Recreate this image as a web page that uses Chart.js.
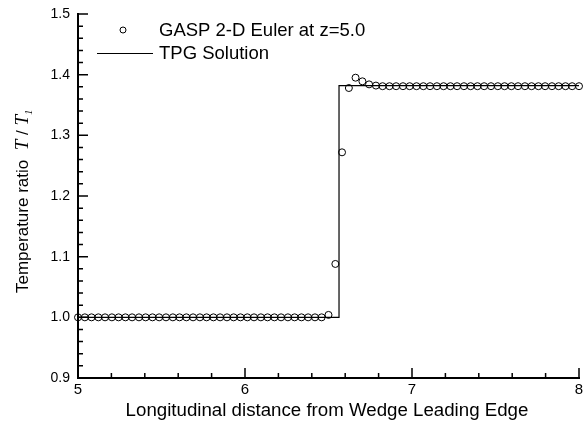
<!DOCTYPE html>
<html>
<head>
<meta charset="utf-8">
<script src="https://cdn.jsdelivr.net/npm/chart.js@4"></script>
<style>
  body { margin: 0; background: #fff; }
  #wrap { width: 584px; height: 424px; }
</style>
</head>
<body>
<div id="wrap"><canvas id="chart" width="584" height="424"></canvas></div>
<script>
// x positions of the GASP samples
const gaspX = [
  5.000, 5.041, 5.081, 5.122, 5.162, 5.203, 5.243, 5.284, 5.324, 5.365,
  5.405, 5.446, 5.486, 5.527, 5.568, 5.608, 5.649, 5.689, 5.730, 5.770,
  5.811, 5.851, 5.892, 5.932, 5.973, 6.014, 6.054, 6.095, 6.135, 6.176,
  6.216, 6.257, 6.297, 6.338, 6.378, 6.419, 6.459, 6.500, 6.541, 6.581,
  6.622, 6.662, 6.703, 6.743, 6.784, 6.824, 6.865, 6.905, 6.946, 6.986,
  7.027, 7.068, 7.108, 7.149, 7.189, 7.230, 7.270, 7.311, 7.351, 7.392,
  7.432, 7.473, 7.514, 7.554, 7.595, 7.635, 7.676, 7.716, 7.757, 7.797,
  7.838, 7.878, 7.919, 7.959, 8.000
];
const gaspT = [
  1.000, 1.000, 1.000, 1.000, 1.000, 1.000, 1.000, 1.000, 1.000, 1.000,
  1.000, 1.000, 1.000, 1.000, 1.000, 1.000, 1.000, 1.000, 1.000, 1.000,
  1.000, 1.000, 1.000, 1.000, 1.000, 1.000, 1.000, 1.000, 1.000, 1.000,
  1.000, 1.000, 1.000, 1.000, 1.000, 1.000, 1.000, 1.004, 1.088, 1.272,
  1.378, 1.395, 1.389, 1.384, 1.382, 1.381, 1.381, 1.381, 1.381, 1.381,
  1.381, 1.381, 1.381, 1.381, 1.381, 1.381, 1.381, 1.381, 1.381, 1.381,
  1.381, 1.381, 1.381, 1.381, 1.381, 1.381, 1.381, 1.381, 1.381, 1.381,
  1.381, 1.381, 1.381, 1.381, 1.381
];

// TPG solution: step at the shock
const tpgX = [5.0, 6.563, 6.563, 8.0];
const tpgT = [1.0, 1.0, 1.382, 1.382];

// axis ticks
const xMajor = [5, 6, 7, 8];
const xMinor = [5.2, 5.4, 5.6, 5.8, 6.2, 6.4, 6.6, 6.8, 7.2, 7.4, 7.6, 7.8];
const yMajor = [0.9, 1.0, 1.1, 1.2, 1.3, 1.4, 1.5];
const yMinor = [
  0.92, 0.94, 0.96, 0.98, 1.02, 1.04, 1.06, 1.08, 1.12, 1.14, 1.16, 1.18,
  1.22, 1.24, 1.26, 1.28, 1.32, 1.34, 1.36, 1.38, 1.42, 1.44, 1.46, 1.48
];

const FONT = "'Liberation Sans', Arial, Helvetica, sans-serif";
const SERIF = "'Liberation Serif', 'Times New Roman', serif";

// inward ticks, titles and the in-plot legend
const decorations = {
  id: "decorations",
  afterDraw(chart) {
    const ctx = chart.ctx;
    const { left, bottom } = chart.chartArea;
    const xs = chart.scales.x;
    const ys = chart.scales.y;

    ctx.save();
    ctx.strokeStyle = "#000";
    ctx.lineWidth = 1.5;
    ctx.beginPath();
    xMajor.forEach((v) => {
      const p = xs.getPixelForValue(v);
      ctx.moveTo(p, bottom);
      ctx.lineTo(p, bottom - 10);
    });
    xMinor.forEach((v) => {
      const p = xs.getPixelForValue(v);
      ctx.moveTo(p, bottom);
      ctx.lineTo(p, bottom - 5);
    });
    yMajor.forEach((v) => {
      const p = ys.getPixelForValue(v);
      ctx.moveTo(left, p);
      ctx.lineTo(left + 10, p);
    });
    yMinor.forEach((v) => {
      const p = ys.getPixelForValue(v);
      ctx.moveTo(left, p);
      ctx.lineTo(left + 5, p);
    });
    ctx.stroke();

    // x title
    ctx.fillStyle = "#000";
    ctx.font = "18.7px " + FONT;
    ctx.textAlign = "center";
    ctx.textBaseline = "alphabetic";
    ctx.fillText("Longitudinal distance from Wedge Leading Edge", 327, 416);

    // y title (rotated, with italic T / T1)
    ctx.save();
    ctx.translate(28, 293);
    ctx.rotate(-Math.PI / 2);
    ctx.textAlign = "left";
    let x = 0;
    const part = (txt, font, dy) => {
      ctx.font = font;
      ctx.fillText(txt, x, dy || 0);
      x += ctx.measureText(txt).width;
    };
    part("Temperature ratio  ", "17px " + FONT);
    part("T", "italic 19px " + SERIF);
    part(" / ", "17px " + FONT);
    part("T", "italic 19px " + SERIF);
    part("1", "italic 11px " + SERIF, 4);
    ctx.restore();

    // legend
    ctx.lineWidth = 1;
    ctx.beginPath();
    ctx.arc(123, 30, 3, 0, Math.PI * 2);
    ctx.stroke();
    ctx.beginPath();
    ctx.moveTo(97, 53.5);
    ctx.lineTo(153, 53.5);
    ctx.stroke();
    ctx.font = "18.5px " + FONT;
    ctx.textAlign = "left";
    ctx.fillText("GASP 2-D Euler at z=5.0", 159, 36);
    ctx.fillText("TPG Solution", 159, 59);
    ctx.restore();
  },
};

const ctx = document.getElementById("chart").getContext("2d");

new Chart(ctx, {
  type: "scatter",
  data: {
    datasets: [
      {
        label: "TPG Solution",
        type: "line",
        data: tpgX.map((x, i) => ({ x: x, y: tpgT[i] })),
        borderColor: "#000",
        borderWidth: 1.2,
        pointRadius: 0,
        fill: false,
        tension: 0,
      },
      {
        label: "GASP 2-D Euler at z=5.0",
        data: gaspX.map((x, i) => ({ x: x, y: gaspT[i] })),
        borderColor: "#000",
        backgroundColor: "rgba(0,0,0,0)",
        borderWidth: 1,
        pointRadius: 3.5,
        pointStyle: "circle",
        clip: false,
      },
    ],
  },
  options: {
    responsive: false,
    animation: false,
    layout: { padding: { top: 14, right: 1, left: 0, bottom: 0 } },
    plugins: {
      legend: { display: false },
      tooltip: { enabled: false },
    },
    scales: {
      x: {
        type: "linear",
        min: 5,
        max: 8,
        afterBuildTicks: (scale) => {
          scale.ticks = xMajor.map((v) => ({ value: v }));
        },
        ticks: {
          color: "#000",
          font: { size: 15, family: FONT },
          padding: 3,
          maxRotation: 0,
          callback: (v) => String(v),
        },
        grid: { display: false, drawTicks: false, tickLength: 0 },
        border: { display: true, color: "#000", width: 2 },
        afterFit: (scale) => {
          scale.height = 46;
          scale.paddingLeft = 0;
          scale.paddingRight = 0;
        },
      },
      y: {
        type: "linear",
        min: 0.9,
        max: 1.5,
        afterBuildTicks: (scale) => {
          scale.ticks = yMajor.map((v) => ({ value: v }));
        },
        ticks: {
          color: "#000",
          font: { size: 14, family: FONT },
          padding: 8,
          callback: (v) => Number(v).toFixed(1),
        },
        grid: { display: false, drawTicks: false, tickLength: 0 },
        border: { display: true, color: "#000", width: 2 },
        afterFit: (scale) => {
          scale.width = 78;
          scale.paddingTop = 0;
          scale.paddingBottom = 0;
        },
      },
    },
  },
  plugins: [decorations],
});
</script>
</body>
</html>
